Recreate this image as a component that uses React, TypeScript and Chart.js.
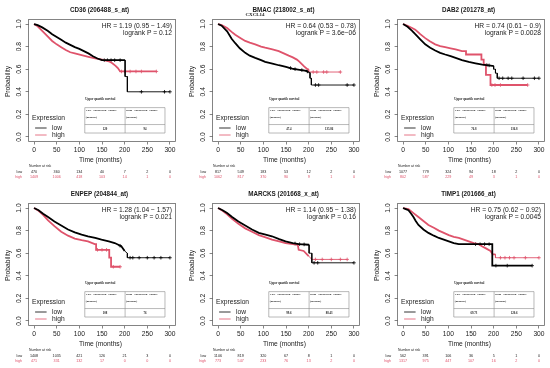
import React, { useEffect, useRef } from "react";
import { Chart, registerables } from "chart.js";
Chart.register(...registerables);

// ---------- data ----------
const timeTicks = [0, 50, 100, 150, 200, 250, 300];
const probTicks = [0, 0.2, 0.4, 0.6, 0.8, 1.0];
const riskTimes = [0, 50, 100, 150, 200, 250, 300];

const titles = ["CD36 (206488_s_at)", "BMAC (218002_s_at)", "DAB2 (201278_at)", "ENPEP (204844_at)", "MARCKS (201668_x_at)", "TIMP1 (201666_at)"];
const subtitles = ["", "CXCL14", "", "", "", ""];
const hrTexts = ["HR = 1.19 (0.95 \u2212 1.49)", "HR = 0.64 (0.53 \u2212 0.78)", "HR = 0.74 (0.61 \u2212 0.9)", "HR = 1.28 (1.04 \u2212 1.57)", "HR = 1.14 (0.95 \u2212 1.38)", "HR = 0.75 (0.62 \u2212 0.92)"];
const pTexts = ["logrank P = 0.12", "logrank P = 3.6e\u221206", "logrank P = 0.0028", "logrank P = 0.021", "logrank P = 0.16", "logrank P = 0.0045"];
const quartileLow = ["120", "47.4", "76.8", "108", "99.6", "69.73"];
const quartileHigh = ["94", "135.86", "136.8", "76", "88.43", "120.6"];

const cd36RiskLow = [470, 360, 134, 40, 7, 2, 0];
const cd36RiskHigh = [1409, 1006, 418, 103, 14, 1, 0];
const bmacRiskLow = [817, 549, 183, 53, 12, 2, 0];
const bmacRiskHigh = [1062, 817, 370, 90, 9, 1, 0];
const dab2RiskLow = [1077, 779, 324, 94, 18, 2, 0];
const dab2RiskHigh = [802, 587, 229, 49, 3, 1, 0];
const enpepRiskLow = [1408, 1035, 421, 126, 21, 3, 0];
const enpepRiskHigh = [471, 331, 132, 17, 0, 0, 0];
const marcksRiskLow = [1106, 819, 320, 67, 8, 1, 0];
const marcksRiskHigh = [773, 547, 233, 76, 13, 2, 0];
const timp1RiskLow = [562, 391, 106, 36, 5, 1, 0];
const timp1RiskHigh = [1317, 975, 447, 107, 16, 2, 0];

// survival curves [months, probability]; repeated months mark the visible drops
const cd36Low = [[0,1],[8,0.99],[18,0.97],[30,0.94],[40,0.91],[50,0.885],[60,0.86],[70,0.835],[80,0.815],[90,0.795],[100,0.78],[110,0.76],[120,0.74],[130,0.715],[140,0.695],[150,0.68],[201,0.68],[201,0.535],[206,0.535],[206,0.40],[300,0.40]];
const cd36High = [[0,1],[8,0.98],[18,0.94],[30,0.89],[40,0.85],[50,0.82],[60,0.795],[70,0.77],[80,0.75],[90,0.74],[105,0.725],[120,0.71],[135,0.695],[150,0.685],[165,0.67],[172,0.655],[180,0.63],[185,0.61],[190,0.58],[270,0.58]];
const bmacLow = [[0,1],[8,0.985],[20,0.935],[30,0.87],[38,0.83],[48,0.785],[60,0.745],[70,0.72],[82,0.70],[95,0.68],[104,0.665],[120,0.65],[134,0.635],[150,0.62],[163,0.605],[180,0.595],[195,0.585],[200,0.57],[203,0.57],[203,0.52],[206,0.52],[206,0.46],[300,0.46]];
const bmacHigh = [[0,1],[8,0.99],[20,0.965],[30,0.93],[38,0.905],[50,0.875],[60,0.85],[70,0.835],[82,0.82],[95,0.80],[104,0.79],[120,0.775],[134,0.76],[145,0.74],[156,0.72],[165,0.705],[174,0.685],[180,0.665],[185,0.645],[190,0.625],[197,0.60],[200,0.60],[200,0.575],[270,0.575]];
const dab2Low = [[0,1],[10,0.975],[20,0.94],[27,0.91],[38,0.865],[49,0.82],[60,0.79],[71,0.765],[82,0.745],[93,0.73],[105,0.715],[116,0.70],[130,0.68],[145,0.665],[160,0.652],[175,0.64],[197,0.63],[200,0.63],[200,0.60],[204,0.60],[204,0.565],[208,0.565],[208,0.52],[300,0.52]];
const dab2High = [[0,1],[10,0.985],[20,0.965],[27,0.95],[38,0.91],[49,0.875],[60,0.845],[71,0.82],[82,0.805],[93,0.795],[105,0.785],[116,0.775],[130,0.76],[139,0.76],[139,0.73],[173,0.73],[173,0.685],[178,0.685],[178,0.64],[183,0.64],[183,0.55],[193,0.55],[193,0.46],[275,0.46]];
const enpepLow = [[0,1],[10,0.98],[20,0.95],[31,0.92],[45,0.88],[60,0.845],[75,0.81],[90,0.785],[105,0.765],[119,0.75],[135,0.735],[149,0.72],[165,0.705],[178,0.69],[186,0.675],[193,0.66],[200,0.62],[206,0.60],[206,0.56],[300,0.56]];
const enpepHigh = [[0,1],[10,0.975],[20,0.94],[31,0.89],[45,0.84],[60,0.79],[75,0.755],[90,0.73],[105,0.715],[119,0.705],[134,0.68],[137,0.68],[137,0.63],[166,0.63],[166,0.56],[170,0.56],[170,0.48],[190,0.48]];
const marcksLow = [[0,1],[10,0.98],[20,0.955],[31,0.92],[45,0.88],[60,0.845],[75,0.81],[90,0.78],[105,0.765],[119,0.75],[135,0.725],[149,0.705],[165,0.69],[178,0.68],[201,0.675],[201,0.60],[207,0.60],[207,0.515],[300,0.515]];
const marcksHigh = [[0,1],[10,0.975],[20,0.945],[31,0.905],[45,0.86],[60,0.82],[75,0.79],[90,0.76],[105,0.74],[119,0.72],[135,0.705],[149,0.69],[165,0.68],[176,0.675],[178,0.63],[189,0.62],[200,0.575],[207,0.545],[285,0.545]];
const timp1Low = [[0,1],[6,0.99],[12,0.98],[18,0.95],[23,0.92],[28,0.885],[34,0.85],[45,0.81],[56,0.78],[68,0.755],[79,0.735],[90,0.72],[101,0.705],[112,0.69],[123,0.68],[197,0.68],[197,0.49],[285,0.49]];
const timp1High = [[0,1],[12,0.99],[23,0.955],[34,0.92],[45,0.885],[56,0.85],[68,0.825],[79,0.80],[90,0.78],[101,0.76],[112,0.745],[123,0.735],[134,0.72],[145,0.705],[156,0.69],[167,0.68],[175,0.66],[182,0.645],[193,0.62],[198,0.59],[204,0.59],[204,0.56],[300,0.56]];

// censor marks [months, probability]
const cd36LowCens = [[155,0.68],[162,0.68],[170,0.68],[178,0.68],[190,0.68],[237,0.40],[288,0.40],[300,0.40]];
const cd36HighCens = [[193,0.58],[200,0.58],[212,0.58],[225,0.58],[237,0.58],[270,0.58]];
const bmacLowCens = [[160,0.61],[170,0.60],[185,0.592],[197,0.58],[215,0.46],[222,0.46],[285,0.46],[300,0.46]];
const bmacHighCens = [[210,0.575],[218,0.575],[233,0.575],[240,0.575],[270,0.575]];
const dab2LowCens = [[185,0.636],[190,0.634],[212,0.52],[220,0.52],[232,0.52],[240,0.52],[265,0.52],[290,0.52],[300,0.52]];
const dab2HighCens = [[196,0.46],[203,0.46],[215,0.46],[275,0.46]];
const enpepLowCens = [[190,0.666],[212,0.56],[218,0.56],[232,0.56],[250,0.56],[265,0.56],[280,0.56],[300,0.56]];
const enpepHighCens = [[140,0.63],[150,0.63],[160,0.63],[175,0.48],[190,0.48]];
const marcksLowCens = [[170,0.686],[180,0.68],[190,0.678],[212,0.515],[220,0.515],[300,0.515]];
const marcksHighCens = [[215,0.545],[230,0.545],[250,0.545],[270,0.545],[285,0.545]];
const timp1LowCens = [[160,0.68],[170,0.68],[180,0.68],[190,0.68],[205,0.49],[230,0.49],[285,0.49]];
const timp1HighCens = [[215,0.56],[225,0.56],[235,0.56],[245,0.56],[270,0.56],[300,0.56]];

const panelLows = [cd36Low, bmacLow, dab2Low, enpepLow, marcksLow, timp1Low];
const panelHighs = [cd36High, bmacHigh, dab2High, enpepHigh, marcksHigh, timp1High];
const panelLowCens = [cd36LowCens, bmacLowCens, dab2LowCens, enpepLowCens, marcksLowCens, timp1LowCens];
const panelHighCens = [cd36HighCens, bmacHighCens, dab2HighCens, enpepHighCens, marcksHighCens, timp1HighCens];
const panelRiskLow = [cd36RiskLow, bmacRiskLow, dab2RiskLow, enpepRiskLow, marcksRiskLow, timp1RiskLow];
const panelRiskHigh = [cd36RiskHigh, bmacRiskHigh, dab2RiskHigh, enpepRiskHigh, marcksRiskHigh, timp1RiskHigh];

// ---------- style ----------
const W = 181;
const H = 184;
const colLefts = [0, 184, 369];
const BLACK = "#000000";
const RED = "#DF536B";
const AXIS = "#666666";
const TEXT = "#1a1a1a";
const SANS = '"Liberation Sans", Arial, Helvetica, sans-serif';
const SERIF = '"Liberation Serif", "DejaVu Serif", serif';
const AREA_TOP = 19.5;
const AREA_BOTTOM = 141.5;
const AREA_LEFT = 28.6;
const AREA_RIGHT = 175.4;

function decorPlugin(i: number) {
  return {
    id: "decor" + i,
    afterDraw(chart: any) {
      const ctx = chart.ctx as CanvasRenderingContext2D;
      const a = chart.chartArea;
      const xs = chart.scales.x;
      const ys = chart.scales.y;
      ctx.save();
      // frame
      ctx.strokeStyle = AXIS;
      ctx.lineWidth = 0.8;
      ctx.strokeRect(a.left, a.top, a.right - a.left, a.bottom - a.top);

      ctx.fillStyle = TEXT;
      // y tick labels (rotated like R)
      ctx.font = `6.7px ${SANS}`;
      ctx.textAlign = "center";
      ctx.textBaseline = "middle";
      for (const v of probTicks) {
        const y = ys.getPixelForValue(v);
        ctx.save();
        ctx.translate(a.left - 9.6, y);
        ctx.rotate(-Math.PI / 2);
        ctx.fillText(v.toFixed(1), 0, 0);
        ctx.restore();
      }
      // y title
      ctx.save();
      ctx.translate(8, (a.top + a.bottom) / 2 + 1);
      ctx.rotate(-Math.PI / 2);
      ctx.fillText("Probability", 0, 0);
      ctx.restore();
      // x title
      ctx.fillText("Time (months)", (a.left + a.right) / 2 - 1.5, a.bottom + 18.5);

      // main title
      const cx = (a.left + a.right) / 2 - 2.5;
      ctx.font = `bold 6.3px ${SANS}`;
      ctx.fillText(titles[i], cx, a.top - 9.5);
      if (subtitles[i]) {
        ctx.font = `bold 5px ${SERIF}`;
        ctx.fillText(subtitles[i], 71, a.top - 5.2);
      }

      // HR text
      ctx.font = `6.7px ${SANS}`;
      ctx.textAlign = "right";
      ctx.fillText(hrTexts[i], a.right - 3.4, a.top + 6.5);
      ctx.fillText(pTexts[i], a.right - 3.4, a.top + 13.7);

      // legend
      ctx.textAlign = "left";
      ctx.fillText("Expression", a.left + 3.4, a.bottom - 23.5);
      ctx.lineWidth = 0.8;
      ctx.strokeStyle = BLACK;
      ctx.beginPath();
      ctx.moveTo(a.left + 6.5, a.bottom - 13.5);
      ctx.lineTo(a.left + 18, a.bottom - 13.5);
      ctx.stroke();
      ctx.strokeStyle = RED;
      ctx.beginPath();
      ctx.moveTo(a.left + 6.5, a.bottom - 6.5);
      ctx.lineTo(a.left + 18, a.bottom - 6.5);
      ctx.stroke();
      ctx.fillText("low", a.left + 23.5, a.bottom - 13.5);
      ctx.fillText("high", a.left + 23.5, a.bottom - 6.5);

      // quartile table
      const tL = xs.getPixelForValue(112);
      const tM = xs.getPixelForValue(201);
      const tR = xs.getPixelForValue(289);
      const tT = ys.getPixelForValue(0.26);
      const tD = ys.getPixelForValue(0.11);
      const tB = ys.getPixelForValue(0.035);
      const tTitle = ys.getPixelForValue(0.33);
      ctx.strokeStyle = "#8a8a8a";
      ctx.lineWidth = 0.6;
      ctx.beginPath();
      ctx.moveTo(tL, tT); ctx.lineTo(tR, tT);
      ctx.moveTo(tL, tD); ctx.lineTo(tR, tD);
      ctx.moveTo(tL, tB); ctx.lineTo(tR, tB);
      ctx.moveTo(tL, tT); ctx.lineTo(tL, tB);
      ctx.moveTo(tM, tT); ctx.lineTo(tM, tB);
      ctx.moveTo(tR, tT); ctx.lineTo(tR, tB);
      ctx.stroke();
      ctx.fillStyle = "#222";
      ctx.textAlign = "left";
      ctx.font = `bold 3px ${SERIF}`;
      ctx.fillText("Upper quartile survival", tL + 0.5, tTitle);
      ctx.font = `bold 2.9px ${SERIF}`;
      ctx.fillText("Low   expression   cohort", tL + 1, tT + 3);
      ctx.fillText("(months)", tL + 1, tT + 9.5);
      ctx.fillText("High   expression   cohort", tM + 1, tT + 3);
      ctx.fillText("(months)", tM + 1, tT + 9.5);
      ctx.textAlign = "center";
      ctx.font = `bold 3px ${SERIF}`;
      ctx.fillText(quartileLow[i], (tL + tM) / 2, (tD + tB) / 2);
      ctx.fillText(quartileHigh[i], (tM + tR) / 2, (tD + tB) / 2);

      // number at risk
      ctx.fillStyle = TEXT;
      ctx.font = `3.4px ${SANS}`;
      ctx.textAlign = "left";
      ctx.fillText("Number at risk", a.left + 0.5, a.bottom + 24.5);
      ctx.textAlign = "right";
      ctx.font = `3.7px ${SANS}`;
      ctx.fillText("low", a.left - 6.5, a.bottom + 30.3);
      ctx.fillStyle = RED;
      ctx.fillText("high", a.left - 6.5, a.bottom + 35.5);
      ctx.textAlign = "center";
      riskTimes.forEach((t, j) => {
        const x = xs.getPixelForValue(t);
        ctx.fillStyle = TEXT;
        ctx.fillText(String(panelRiskLow[i][j]), x, a.bottom + 30.3);
        ctx.fillStyle = RED;
        ctx.fillText(String(panelRiskHigh[i][j]), x, a.bottom + 35.5);
      });
      ctx.restore();
    },
  };
}

function curveDataset(points: number[][], color: string) {
  return {
    type: "line",
    data: points.map(([x, y]) => ({ x, y })),
    borderColor: color,
    borderWidth: 1.6,
    stepped: false,
    tension: 0,
    pointRadius: 0,
    fill: false,
    borderJoinStyle: "miter",
    segment: {
      borderWidth: (c: any) => (c.p0.parsed.x >= 199 ? 0.9 : 1.8),
    },
  };
}

function censorDataset(points: number[][], color: string) {
  return {
    type: "scatter",
    data: points.map(([x, y]) => ({ x, y })),
    borderColor: color,
    backgroundColor: color,
    pointStyle: "cross",
    pointRadius: 1.8,
    pointBorderWidth: 0.8,
    showLine: false,
  };
}

function buildConfig(i: number): any {
  const gridOpts = {
    display: true,
    drawOnChartArea: false,
    drawTicks: true,
    tickLength: 3,
    color: AXIS,
    lineWidth: 0.8,
  };
  return {
    type: "line",
    data: {
      datasets: [
        curveDataset(panelLows[i], BLACK),
        curveDataset(panelHighs[i], RED),
        censorDataset(panelLowCens[i], BLACK),
        censorDataset(panelHighCens[i], RED),
      ],
    },
    options: {
      responsive: false,
      animation: false,
      devicePixelRatio: 1,
      layout: { padding: { top: AREA_TOP, right: W - AREA_RIGHT, left: 0, bottom: 0 } },
      plugins: { legend: { display: false }, tooltip: { enabled: false }, title: { display: false } },
      scales: {
        x: {
          type: "linear",
          min: -12,
          max: 312,
          afterBuildTicks: (s: any) => {
            s.ticks = timeTicks.map((v) => ({ value: v }));
          },
          afterFit: (s: any) => {
            s.height = H - AREA_BOTTOM;
          },
          grid: gridOpts,
          border: { display: false },
          ticks: {
            font: { family: SANS, size: 6.7 },
            color: TEXT,
            padding: 1.8,
            maxRotation: 0,
            minRotation: 0,
            autoSkip: false,
            callback: (v: any) => String(v),
          },
        },
        y: {
          type: "linear",
          min: -0.04,
          max: 1.04,
          afterBuildTicks: (s: any) => {
            s.ticks = probTicks.map((v) => ({ value: v }));
          },
          afterFit: (s: any) => {
            s.width = AREA_LEFT;
          },
          grid: gridOpts,
          border: { display: false },
          ticks: { display: false },
        },
      },
    },
    plugins: [decorPlugin(i)],
  };
}

function Panel({ index }: { index: number }) {
  const ref = useRef<HTMLCanvasElement>(null);
  useEffect(() => {
    const chart = new Chart(ref.current as HTMLCanvasElement, buildConfig(index));
    return () => chart.destroy();
  }, [index]);
  const left = colLefts[index % 3];
  const top = Math.floor(index / 3) * 184;
  return (
    <canvas
      ref={ref}
      width={W}
      height={H}
      style={{ position: "absolute", left, top, width: W, height: H }}
    />
  );
}

export default function App() {
  return (
    <div
      style={{
        position: "absolute",
        left: 0,
        top: 0,
        width: 550,
        height: 368,
        background: "#ffffff",
        overflow: "hidden",
      }}
    >
      {[0, 1, 2, 3, 4, 5].map((i) => (
        <Panel key={i} index={i} />
      ))}
    </div>
  );
}
